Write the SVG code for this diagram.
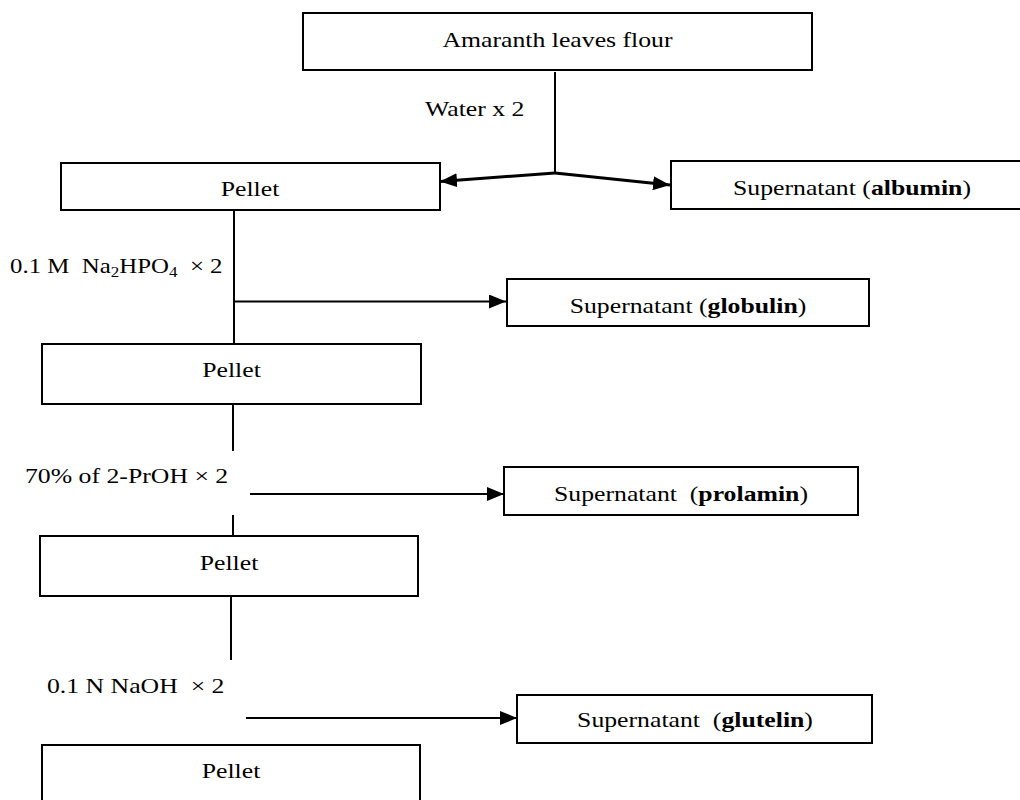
<svg xmlns="http://www.w3.org/2000/svg" width="1020" height="800" viewBox="0 0 1020 800">
<style>
  text { font-family: "Liberation Serif", "Times New Roman", serif; font-size: 22px; fill: #000; white-space: pre; }
  .c { text-anchor: middle; }
  .b { font-weight: bold; }
  .sub { font-size: 15px; }
  .box { fill: #fff; stroke: #000; stroke-width: 2; }
  .ln { fill: none; stroke: #000; stroke-width: 2; }
  .thick { fill: none; stroke: #000; stroke-width: 3; }
</style>
<defs>
  <marker id="ah" markerUnits="userSpaceOnUse" markerWidth="17" markerHeight="14" refX="17" refY="7" orient="auto">
    <path d="M0,0 L17,7 L0,14 z" fill="#000"/>
  </marker>
</defs>
<rect width="1020" height="800" fill="#fff"/>

<g id="connectors">
  <line class="ln" x1="555" y1="72" x2="555" y2="173"/>
  <line class="thick" x1="555" y1="173" x2="440" y2="181.5" marker-end="url(#ah)"/>
  <line class="thick" x1="555" y1="173" x2="670" y2="185" marker-end="url(#ah)"/>
  <line class="ln" x1="234" y1="210" x2="234" y2="344"/>
  <line class="ln" x1="233" y1="301.5" x2="506" y2="301.5" marker-end="url(#ah)"/>
  <line class="ln" x1="233" y1="404" x2="233" y2="451"/>
  <line class="ln" x1="250" y1="494" x2="504" y2="494" marker-end="url(#ah)"/>
  <line class="ln" x1="233" y1="515" x2="233" y2="536"/>
  <line class="ln" x1="231" y1="596" x2="231" y2="660"/>
  <line class="ln" x1="246" y1="718" x2="517" y2="718" marker-end="url(#ah)"/>
</g>

<g id="labels">
  <text transform="translate(425,116) scale(1.17,1)">Water x 2</text>
  <text transform="translate(10,273) scale(1.13,1)">0.1 M  Na<tspan class="sub" dy="4">2</tspan><tspan dy="-4">HPO</tspan><tspan class="sub" dy="4">4</tspan><tspan dy="-4">  × 2</tspan></text>
  <text transform="translate(25,483) scale(1.17,1)">70% of 2-PrOH × 2</text>
  <text transform="translate(47,693) scale(1.17,1)">0.1 N NaOH  × 2</text>
</g>

<g id="flour">
  <rect class="box" x="303" y="13" width="509" height="57"/>
  <text class="c" transform="translate(557.5,47) scale(1.17,1)">Amaranth leaves flour</text>
</g>
<g id="pellet1">
  <rect class="box" x="61" y="163" width="379" height="47"/>
  <text class="c" transform="translate(250,196) scale(1.17,1)">Pellet</text>
</g>
<g id="albumin">
  <rect class="box" x="671" y="161" width="365" height="48"/>
  <text class="c" transform="translate(852,195) scale(1.17,1)">Supernatant (<tspan class="b">albumin</tspan>)</text>
</g>
<g id="globulin">
  <rect class="box" x="507" y="279" width="362" height="47"/>
  <text class="c" transform="translate(688,313) scale(1.17,1)">Supernatant (<tspan class="b">globulin</tspan>)</text>
</g>
<g id="pellet2">
  <rect class="box" x="42" y="344" width="379" height="60"/>
  <text class="c" transform="translate(231.5,377) scale(1.17,1)">Pellet</text>
</g>
<g id="prolamin">
  <rect class="box" x="504" y="467" width="354" height="48"/>
  <text class="c" transform="translate(681,501) scale(1.17,1)">Supernatant  (<tspan class="b">prolamin</tspan>)</text>
</g>
<g id="pellet3">
  <rect class="box" x="40" y="536" width="378" height="60"/>
  <text class="c" transform="translate(229,570) scale(1.17,1)">Pellet</text>
</g>
<g id="glutelin">
  <rect class="box" x="517" y="695" width="355" height="48"/>
  <text class="c" transform="translate(695,727) scale(1.17,1)">Supernatant  (<tspan class="b">glutelin</tspan>)</text>
</g>
<g id="pellet4">
  <rect class="box" x="42" y="745" width="378" height="70"/>
  <text class="c" transform="translate(231,778) scale(1.17,1)">Pellet</text>
</g>
</svg>
